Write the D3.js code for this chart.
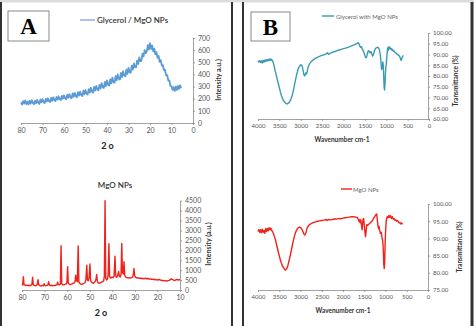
<!DOCTYPE html>
<html><head><meta charset="utf-8">
<script src="https://cdn.jsdelivr.net/npm/d3@7"></script>
<style>body{margin:0;background:#fff}svg{display:block}text{font-family:Lato,"Open Sans",sans-serif}</style>
</head><body><svg id="c" width="474" height="326"></svg>
<script>
// ---- DATA ----
const glyXrdTheta = [80,79.5,79,78.5,78,77.5,77,76.5,76,75.5,75,74.5,74,73.5,73,72.5,72,71.5,71,70.5,70,69.5,69,68.5,68,67.5,67,66.5,66,65.5,65,64.5,64,63.5,63,62.5,62,61.5,61,60.5,60,59.5,59,58.5,58,57.5,57,56.5,56,55.5,55,54.5,54,53.5,53,52.5,52,51.5,51,50.5,50,49.5,49,48.5,48,47.5,47,46.5,46,45.5,45,44.5,44,43.5,43,42.5,42,41.5,41,40.5,40,39.5,39,38.5,38,37.5,37,36.5,36,35.5,35,34.5,34,33.5,33,32.5,32,31.5,31,30.5,30,29.5,29,28.5,28,27.5,27,26.5,26,25.5,25,24.5,24,23.5,23,22.5,22,21.5,21,20.5,20,19.5,19,18.5,18,17.5,17,16.5,16,15.5,15,14.5,14,13.5,13,12.5,12,11.5,11,10.5,10,9.5,9,8.5,8,7.5,7,6.5,6,5.5];
const glyXrdInt = [170,152,180,160,186,156,176,152,182,160,188,166,154,184,162,190,168,156,194,170,196,174,164,198,178,204,180,172,206,182,212,190,180,214,192,220,196,188,224,200,228,204,196,232,208,238,212,204,244,216,248,222,212,254,226,258,230,222,266,236,270,242,234,278,250,290,258,250,298,268,306,276,268,314,284,328,294,288,338,304,350,316,308,360,326,374,338,332,386,352,400,364,358,412,378,426,390,384,440,404,454,418,414,472,440,490,460,458,514,486,540,510,512,572,548,600,574,590,642,604,658,610,638,590,612,566,584,536,552,504,518,472,476,434,438,392,394,350,350,306,304,272,294,264,300,272,306,280,310,286];

const mgoXrd = [[80,230],[79.7,260],[79.4,670],[79.1,280],[78.5,230],[78,250],[77.5,220],[77,240],[76.5,215],[76,235],[75.6,280],[75.3,640],[75.0,270],[74.5,230],[74,210],[73.5,240],[73.2,300],[72.9,520],[72.6,260],[72,220],[71.5,200],[71,230],[70.5,210],[70.2,320],[70,250],[69.5,210],[69,230],[68.5,260],[68.2,420],[67.9,250],[67.5,220],[67,240],[66.5,210],[66,230],[65.5,220],[65,250],[64.5,260],[64.2,400],[63.9,270],[63.5,260],[63,300],[62.7,2230],[62.4,320],[62,260],[61.5,270],[61,280],[60.5,300],[60.1,380],[59.8,1170],[59.5,340],[59,290],[58.5,280],[58,300],[57.5,330],[57,350],[56.5,420],[56.2,750],[55.9,480],[55.5,420],[55.1,2220],[54.8,400],[54.3,330],[54,300],[53.5,290],[53,310],[52.5,340],[52,380],[51.7,520],[51.3,1250],[51,500],[50.6,470],[50.3,600],[49.9,1310],[49.6,480],[49.2,400],[48.8,360],[48.4,340],[48,380],[47.5,450],[47.2,560],[46.9,780],[46.6,430],[46.2,360],[45.8,340],[45.4,360],[45,380],[44.6,400],[44.2,420],[43.8,480],[43.5,700],[43.2,4500],[42.9,600],[42.5,500],[42.1,560],[41.8,800],[41.5,2330],[41.2,700],[40.8,600],[40.4,620],[40,650],[39.6,620],[39.2,700],[38.8,1700],[38.5,720],[38.1,640],[37.7,700],[37.2,940],[36.9,700],[36.5,650],[36.1,800],[35.8,2350],[35.5,900],[35.1,800],[34.8,1420],[34.5,750],[34,640],[33.5,620],[33,600],[32.5,620],[32,600],[31.5,620],[31,650],[30.7,780],[30.4,1080],[30.1,720],[29.7,640],[29.2,600],[28.7,620],[28.2,590],[27.7,600],[27.2,580],[26.7,590],[26.2,570],[25.7,580],[25.2,600],[24.7,560],[24.2,580],[23.7,550],[23.2,560],[22.7,540],[22.2,550],[21.7,520],[21.2,540],[20.7,510],[20.2,520],[19.7,500],[19.2,540],[18.8,500],[18.3,490],[17.8,470],[17.3,480],[16.8,460],[16.3,470],[15.8,450],[15.3,470],[14.8,480],[14.3,520],[13.8,560],[13.3,520],[12.8,500],[12.3,480],[11.8,510],[11.3,540],[10.8,500],[10.3,520],[10,510]];

const glyFtir = [[4000,87],[3980,86.5],[3960,87.2],[3940,86.3],[3920,87],[3900,86],[3880,87.3],[3860,86.4],[3840,87.5],[3820,86.8],[3800,87.6],[3780,87],[3760,87.8],[3740,87.2],[3720,88],[3700,87.3],[3680,87.8],[3660,87],[3640,86],[3620,84.5],[3600,82.5],[3575,80.5],[3550,78.5],[3525,76.5],[3500,74.5],[3475,72.5],[3450,70.8],[3425,69.5],[3400,68.5],[3375,67.8],[3350,67.3],[3325,67],[3300,67.2],[3275,67.6],[3250,68.3],[3225,69.5],[3200,71],[3175,73],[3150,75.5],[3125,78],[3100,80.3],[3075,82.3],[3050,83.8],[3025,84.7],[3000,85.2],[2975,85],[2960,84],[2940,82],[2925,80.5],[2910,80],[2895,80.5],[2880,81.5],[2865,81],[2850,82],[2830,84],[2800,85.5],[2750,86.8],[2700,87.6],[2650,88.3],[2600,88.8],[2550,89.2],[2500,89.6],[2450,89.9],[2400,90.3],[2375,90.8],[2350,90.1],[2300,90.7],[2250,91.1],[2200,91.4],[2150,91.8],[2100,92.1],[2050,92.4],[2000,92.7],[1950,93],[1900,93.3],[1850,93.7],[1800,94.1],[1750,94.5],[1700,95],[1680,95.2],[1660,95.5],[1640,95.1],[1620,94],[1600,93.3],[1580,93.6],[1560,92.5],[1540,91.8],[1520,90.8],[1500,89.5],[1480,88.5],[1460,88.8],[1440,90.5],[1420,91.8],[1400,91.5],[1380,90.8],[1360,91.4],[1340,90.5],[1320,89.3],[1300,89.8],[1280,91.5],[1260,92.5],[1240,93],[1220,93.2],[1200,93.4],[1180,93],[1160,92.2],[1140,90],[1120,86],[1110,83],[1100,83.5],[1090,85],[1080,86.5],[1070,85],[1060,80],[1050,75],[1040,73.5],[1030,76],[1020,81],[1010,84],[1000,85.5],[990,88],[980,90.5],[970,92.5],[960,93.3],[950,92],[940,93.5],[930,92.8],[920,93.5],[900,92.5],[880,92.8],[860,91.8],[850,92.3],[830,91.5],[810,91.6],[800,91],[780,90.8],[760,90.4],[740,90],[720,89.8],[700,89.5],[680,88.8],[660,87.6],[650,87.3],[640,88],[620,89],[600,89.6]];

const mgoFtir = [[4000,92],[3980,92.6],[3960,91.8],[3940,92.5],[3920,91.6],[3900,92.7],[3880,91.8],[3860,92.3],[3840,91.5],[3820,92.8],[3800,92],[3780,92.9],[3760,92.2],[3740,93.1],[3720,92.5],[3700,93],[3680,92.4],[3660,92],[3640,91.5],[3620,90.8],[3600,90],[3575,88.8],[3550,87.5],[3525,86.2],[3500,85],[3475,83.8],[3450,82.8],[3425,82],[3400,81.5],[3375,81],[3350,80.8],[3325,81.2],[3300,82],[3275,83.2],[3250,84.5],[3225,86],[3200,87.5],[3175,89],[3150,90.3],[3125,91.4],[3100,92.2],[3075,92.8],[3050,93.1],[3025,93.3],[3000,93.2],[2975,92.8],[2950,92.2],[2925,91.4],[2900,91],[2880,91.3],[2860,92.2],[2840,93.2],[2800,93.9],[2750,94.3],[2700,94.6],[2650,94.8],[2600,95],[2550,95.1],[2500,95.2],[2450,95.3],[2400,95.5],[2375,95.2],[2350,95.5],[2300,95.4],[2250,95.5],[2200,95.7],[2150,95.6],[2100,95.8],[2050,95.7],[2000,95.9],[1950,96],[1900,96.1],[1850,96.2],[1800,96.3],[1750,96.3],[1700,96.2],[1660,96],[1640,95.5],[1620,94.8],[1600,95.5],[1590,94.5],[1580,95.3],[1565,93.8],[1550,92.5],[1540,94],[1530,95.5],[1515,95.8],[1500,94],[1485,92],[1470,90.5],[1460,91.5],[1450,93],[1440,94],[1420,93.8],[1400,94],[1380,94.3],[1350,94.6],[1320,95],[1300,95.4],[1280,95.8],[1260,96.2],[1240,96.6],[1220,97],[1205,97.1],[1190,95],[1175,93.5],[1160,92.8],[1150,93.5],[1140,92.5],[1120,91.5],[1100,91.8],[1085,90.5],[1070,89.5],[1060,88.5],[1050,86],[1040,82.5],[1030,81.2],[1020,83],[1010,88],[1000,91.5],[990,94],[975,95.8],[960,96.3],[940,96],[920,96.7],[900,96.1],[880,96.6],[860,95.8],[840,96.3],[820,95.6],[800,95.8],[780,95.3],[760,95.4],[740,95],[720,95.2],[700,94.9],[680,94.5],[660,94.6],[640,94.2],[620,94.5],[600,94.1]];

const xrdTicksX1 = [80,70,60,50,40,30,20,10,0];
const xrdTicksY1 = [0,100,200,300,400,500,600,700];
const xrdTicksX2 = [80,70,60,50,40,30,20,10];
const xrdTicksY2 = [0,500,1000,1500,2000,2500,3000,3500,4000,4500];
const ftirTicksX = [4000,3500,3000,2500,2000,1500,1000,500,0];
const ftirTicksY1 = [60,65,70,75,80,85,90,95,100];
const ftirTicksY2 = [75,80,85,90,95,100];

// ---- DRAW ----
const svg = d3.select("#c");
svg.append("rect").attr("width",474).attr("height",326).attr("fill","#fff");
svg.append("rect").attr("x",0).attr("y",0).attr("width",474).attr("height",2.5).attr("fill","#dcdcdc");
[[1,"#333",2],[232,"#333",2],[243,"#333",2],[472,"#333",3]].forEach(([x,c,w])=>{
  svg.append("line").attr("x1",x).attr("x2",x).attr("y1",2).attr("y2",326).attr("stroke",c).attr("stroke-width",w);
});

function chart(o){
  const x = d3.scaleLinear().domain(o.xd).range(o.xr);
  const y = d3.scaleLinear().domain(o.yd).range(o.yr);
  const g = svg.append("g");
  const ax = g.append("g").attr("transform",`translate(0,${o.yr[0]})`)
    .call(d3.axisBottom(x).tickValues(o.xt).tickSize(2).tickSizeOuter(0).tickPadding(3).tickFormat(o.xf||d3.format("d")));
  const ay = g.append("g").attr("transform",`translate(${o.yax},0)`)
    .call(d3.axisRight(y).tickValues(o.yt).tickSize(2).tickSizeOuter(0).tickPadding(3).tickFormat(o.yf||d3.format("d")));
  [ax,ay].forEach(a=>{
    a.select(".domain").attr("stroke","#8a8a8a").attr("stroke-width",0.8);
    a.selectAll(".tick line").attr("stroke","#8a8a8a").attr("stroke-width",0.8);
    a.selectAll("text").attr("fill","#555").style("font-size",o.fs+"px").style("font-family","Lato, sans-serif");
  });
  g.append("path").datum(o.data).attr("fill","none").attr("stroke",o.color).attr("stroke-width",o.lw||1.4)
    .attr("stroke-linejoin","round")
    .attr("d",d3.line().x(d=>x(d[0])).y(d=>y(d[1])));
  return g;
}

function label(t,x,y,size,weight,color,rot){
  const e = svg.append("text").attr("text-anchor","middle").attr("dominant-baseline","central")
    .style("font-size",size+"px").style("font-weight",weight).attr("fill",color).text(t);
  if(rot) e.attr("transform",`translate(${x},${y}) rotate(-90)`); else e.attr("x",x).attr("y",y);
  return e;
}

// A top
chart({data: glyXrdTheta.map((t,i)=>[t,glyXrdInt[i]]), xd:[80,0], xr:[21,193], yd:[0,700], yr:[123,38], yax:193,
  xt:xrdTicksX1, yt:xrdTicksY1, color:"#5b9bd5", fs:7, lw:1.8});
// A bottom
chart({data: mgoXrd, xd:[80,10], xr:[22,180], yd:[0,4500], yr:[290,200.7], yax:180,
  xt:xrdTicksX2, yt:xrdTicksY2, color:"#f0221a", fs:7, lw:1.4});
// B top
chart({data: glyFtir, xd:[4000,0], xr:[258,429], yd:[60,100], yr:[119,33], yax:428,
  xt:ftirTicksX, yt:ftirTicksY1, color:"#3a9ab3", fs:6, lw:1.4, yf:d3.format(".2f")});
// B bottom
chart({data: mgoFtir, xd:[4000,0], xr:[258,428], yd:[75,100], yr:[290,204], yax:428,
  xt:ftirTicksX, yt:ftirTicksY2, color:"#f0221a", fs:6, lw:1.4, yf:d3.format(".2f")});

// panel letter boxes
svg.append("rect").attr("x",8).attr("y",11).attr("width",41).attr("height",30).attr("fill","#fff").attr("stroke","#888").attr("stroke-width",1);
svg.append("rect").attr("x",251).attr("y",12).attr("width",39).attr("height",29).attr("fill","#fff").attr("stroke","#888").attr("stroke-width",1);
svg.append("text").attr("x",28.5).attr("y",34).attr("text-anchor","middle").style("font-family","'Liberation Serif', serif").style("font-weight","bold").style("font-size","23px").attr("fill","#000").text("A");
svg.append("text").attr("x",270.5).attr("y",35).attr("text-anchor","middle").style("font-family","'Liberation Serif', serif").style("font-weight","bold").style("font-size","23px").attr("fill","#000").text("B");

// legends / titles
svg.append("line").attr("x1",80).attr("x2",95).attr("y1",20).attr("y2",20).attr("stroke","#a9c4e6").attr("stroke-width",2);
svg.append("text").attr("x",97).attr("y",20).attr("dominant-baseline","central").style("font-size","8px").style("font-weight","600").attr("fill","#333").text("Glycerol / MgO NPs");
label("MgO NPs",115,185,8,"600","#333");
svg.append("line").attr("x1",322).attr("x2",334).attr("y1",16).attr("y2",16).attr("stroke","#3a9ab3").attr("stroke-width",1.4);
svg.append("text").attr("x",336).attr("y",16).attr("dominant-baseline","central").style("font-size","6px").attr("fill","#666").text("Glycerol with MgO NPs");
svg.append("line").attr("x1",341).attr("x2",352).attr("y1",189).attr("y2",189).attr("stroke","#f0221a").attr("stroke-width",1.4);
svg.append("text").attr("x",353).attr("y",189).attr("dominant-baseline","central").style("font-size","6px").attr("fill","#666").text("MgO NPs");

// axis titles
label("2 o",107.5,145.5,9,"bold","#222");
label("2 o",101,312.5,9,"bold","#222");
label("Intensity a.u.)",218,80,7,"bold","#333",true);
label("Intensity (a.u.)",208,244,7,"bold","#333",true);
label("Wavenumber cm-1",342,139,6.5,"bold","#333");
label("Wavenumber cm-1",343,310,6.5,"bold","#333");
label("Transmittance (%)",455,81,6.5,"bold","#333",true);
label("Transmittance (%)",459,247,6.5,"bold","#333",true);
</script></body></html>
